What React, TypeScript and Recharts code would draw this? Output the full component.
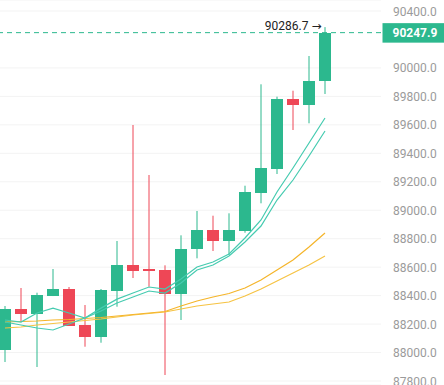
import React from 'react';
import {
  ComposedChart,
  Bar,
  Line,
  XAxis,
  YAxis,
  CartesianGrid,
  ReferenceLine,
  ReferenceDot,
} from 'recharts';

const categories = [
  'K01', 'K02', 'K03', 'K04', 'K05', 'K06', 'K07', 'K08', 'K09', 'K10', 'K11',
  'K12', 'K13', 'K14', 'K15', 'K16', 'K17', 'K18', 'K19', 'K20', 'K21',
];
const opens = [
  88017.8, 88306.0, 88272.9, 88399.4, 88446.5, 88195.6, 88111.3, 88434.5, 88615.1, 88587.0, 88580.0,
  88409.3, 88725.5, 88861.1, 88785.9, 88854.1, 89123.2, 89291.8, 89781.6, 89737.4, 89906.0,
];
const highs = [
  88327.0, 88453.5, 88420.5, 88587.0, 88460.6, 88334.0, 88446.5, 88783.8, 89598.9, 89247.6, 88613.0,
  88823.8, 88994.6, 88961.6, 88978.4, 89172.4, 89884.9, 89797.8, 89839.9, 90083.8, 90286.7,
];
const lows = [
  87933.5, 88214.6, 87898.4, 88397.0, 88186.5, 88041.0, 88069.0, 88322.1, 88523.8, 88462.7, 87842.2,
  88228.7, 88662.2, 88713.5, 88685.4, 88842.0, 89048.7, 89254.6, 89563.8, 89610.9, 89816.8,
];
const closes = [
  88306.0, 88272.9, 88404.3, 88444.3, 88188.6, 88111.3, 88439.5, 88615.1, 88575.1, 88572.9, 88409.3,
  88727.6, 88861.1, 88785.9, 88861.1, 89130.2, 89294.7, 89781.6, 89737.4, 89908.1, 90247.9,
];
const maFast = [
  88228.7, 88214.6, 88277.8, 88312.2, 88277.8, 88242.7, 88312.2, 88375.2, 88418.4, 88460.6, 88446.5,
  88516.8, 88601.1, 88636.2, 88692.6, 88804.9, 88931.4, 89128.1, 89296.8, 89472.6, 89648.1,
];
const maMid = [
  88214.6, 88193.5, 88172.4, 88158.4, 88200.5, 88242.7, 88291.9, 88348.1, 88390.3, 88432.4, 88418.4,
  88488.7, 88580.0, 88615.1, 88678.4, 88776.8, 88889.2, 89071.9, 89212.4, 89381.1, 89556.7,
];
const maSlow = [
  88214.6, 88218.1, 88221.6, 88228.7, 88232.2, 88239.2, 88246.2, 88256.8, 88267.3, 88277.8, 88288.4,
  88327.0, 88362.2, 88390.3, 88414.9, 88453.5, 88509.7, 88580.0, 88650.3, 88741.6, 88840.0,
];
const maLong = [
  88172.4, 88179.4, 88193.5, 88204.0, 88214.6, 88225.1, 88235.7, 88249.7, 88263.8, 88274.3, 88284.8,
  88306.0, 88327.0, 88341.1, 88355.2, 88397.3, 88446.5, 88502.7, 88559.0, 88615.1, 88678.4,
];
const yTicks = [
  87800, 88000, 88200, 88400, 88600, 88800, 89000, 89200, 89400, 89600, 89800, 90000, 90400,
];
const lastPrice = 90247.9;
const peakIndex = 20;
const peakPrice = 90286.7;

const GREEN = '#2CB88E';
const RED = '#EE4756';

const data = categories.map((t, i) => ({
  t,
  open: opens[i],
  high: highs[i],
  low: lows[i],
  close: closes[i],
  range: [lows[i], highs[i]],
  maFast: maFast[i],
  maMid: maMid[i],
  maSlow: maSlow[i],
  maLong: maLong[i],
}));

const Candle = (props: any) => {
  const { x, y, width, height, payload } = props;
  if (x == null || y == null || !payload) return null;
  const top = Math.min(y, y + height);
  const h = Math.abs(height);
  const { open, close, high, low } = payload;
  const span = high - low || 1;
  const pix = (v: number) => top + ((high - v) / span) * h;
  const up = close >= open;
  const color = up ? GREEN : RED;
  const cx = x + width / 2;
  const bTop = pix(Math.max(open, close));
  const bBot = pix(Math.min(open, close));
  return (
    <g>
      <line x1={cx} x2={cx} y1={top} y2={top + h} stroke={color} strokeWidth={1} />
      <rect
        x={x}
        y={bTop}
        width={width}
        height={Math.max(1.5, bBot - bTop)}
        fill={color}
        shapeRendering="crispEdges"
      />
    </g>
  );
};

const YTick = (props: any) => {
  const { x, y, payload } = props;
  return (
    <text
      x={x}
      y={y}
      dy={4.5}
      fill="#9B9B9B"
      fontSize={12}
      fontFamily="Roboto, 'DejaVu Sans', sans-serif"
      textAnchor="start"
    >
      {Number(payload.value).toFixed(1)}
    </text>
  );
};

const PriceLabel = (props: any) => {
  const vb = props.viewBox || {};
  const xr = (vb.x || 0) + (vb.width || 0);
  const y = vb.y || 0;
  return (
    <g>
      <rect x={xr + 1.5} y={y - 9.5} width={70} height={19.5} fill={GREEN} />
      <text
        x={xr + 11.5}
        y={y}
        dy={4.5}
        fill="#ffffff"
        fontSize={12}
        fontWeight="bold"
        fontFamily="Roboto, 'DejaVu Sans', sans-serif"
      >
        {lastPrice.toFixed(1)}
      </text>
    </g>
  );
};

const PeakMark = (props: any) => {
  const { cx, cy } = props;
  if (cx == null || cy == null) return null;
  return (
    <text
      x={cx - 3.5}
      y={cy}
      dy={2.5}
      fill="#222222"
      fontSize={12}
      textAnchor="end"
      fontFamily="Roboto, 'DejaVu Sans', sans-serif"
    >
      {peakPrice.toFixed(1) + ' \u2192'}
    </text>
  );
};

export default function App() {
  return (
    <div style={{ position: 'absolute', left: -3.5, top: 0, fontFamily: 'Roboto, sans-serif' }}>
      <ComposedChart
        width={448}
        height={385}
        data={data}
        margin={{ top: 0, right: 0, bottom: 0, left: 0 }}
      >
        <CartesianGrid vertical={false} stroke="#F3F3F3" />
        <XAxis dataKey="t" type="category" hide padding={{ left: 0, right: 48 }} />
        <YAxis
          orientation="right"
          width={64}
          domain={[87772, 90477.3]}
          ticks={yTicks}
          allowDataOverflow
          axisLine={false}
          tickLine={false}
          tickSize={0}
          tickMargin={12}
          tick={<YTick />}
          interval={0}
        />
        <Line dataKey="maLong" stroke="#F6C343" strokeWidth={1.2} dot={false} activeDot={false} isAnimationActive={false} />
        <Line dataKey="maSlow" stroke="#F5B52A" strokeWidth={1.2} dot={false} activeDot={false} isAnimationActive={false} />
        <Line dataKey="maMid" stroke="#45CBB0" strokeWidth={1.2} dot={false} activeDot={false} isAnimationActive={false} />
        <Line dataKey="maFast" stroke="#45CBB0" strokeWidth={1.2} dot={false} activeDot={false} isAnimationActive={false} />
        <Bar dataKey="range" barSize={12} shape={(p: any) => <Candle {...p} />} isAnimationActive={false} />
        <ReferenceLine
          y={lastPrice}
          stroke={GREEN}
          strokeDasharray="5 4"
          strokeWidth={1}
          label={(p: any) => <PriceLabel {...p} />}
        />
        <ReferenceDot
          x={categories[peakIndex]}
          y={peakPrice}
          r={1}
          shape={(p: any) => <PeakMark {...p} />}
        />
      </ComposedChart>
    </div>
  );
}
